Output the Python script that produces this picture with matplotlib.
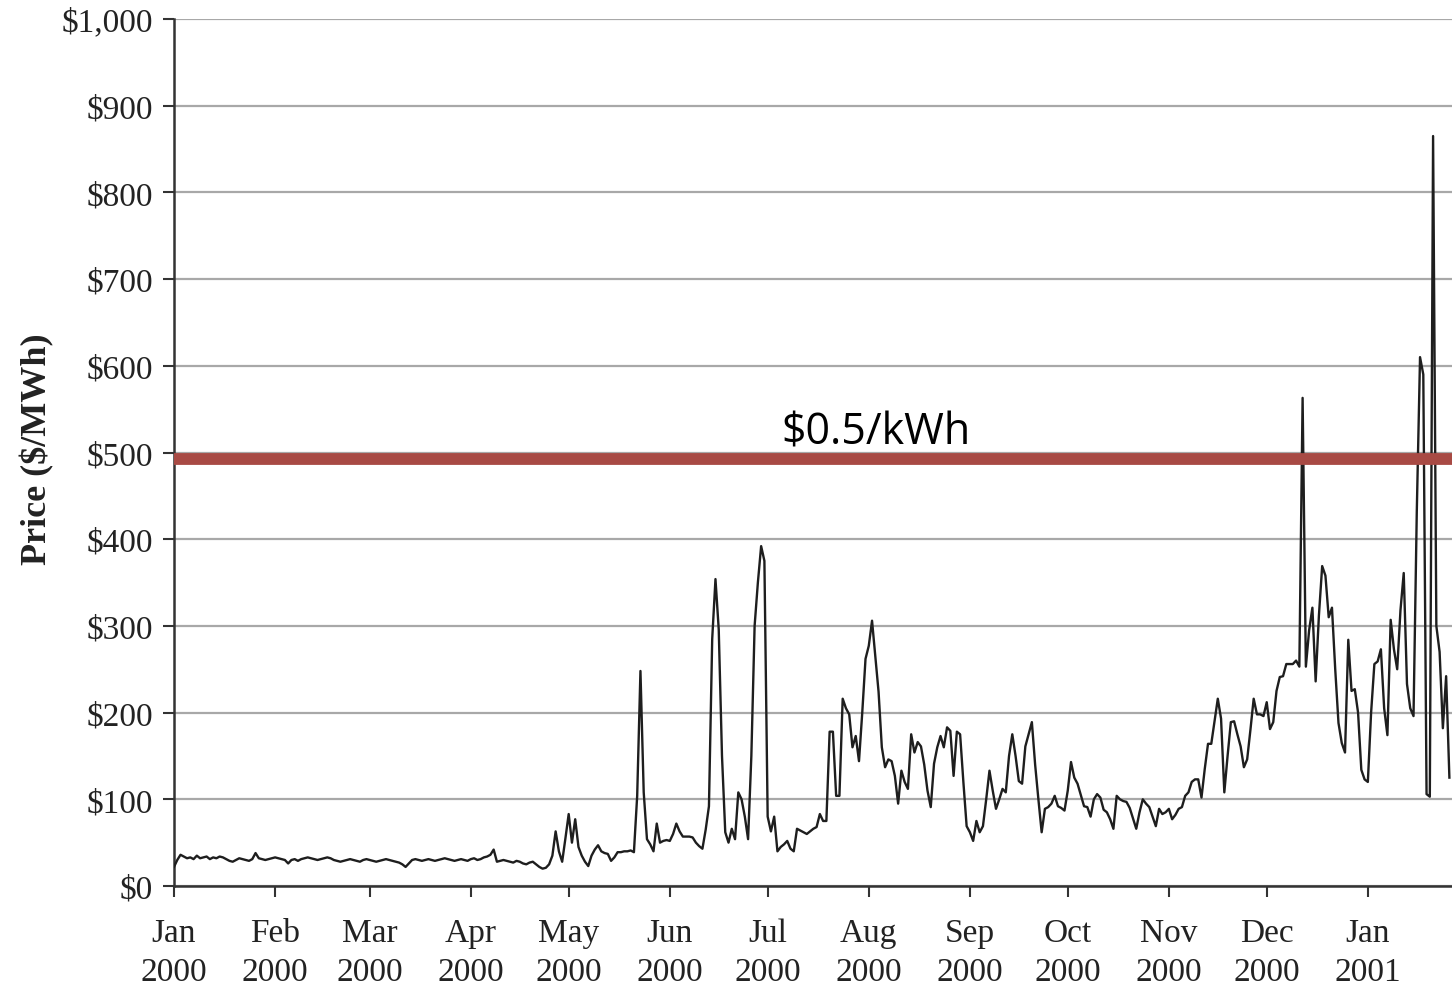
import matplotlib
matplotlib.use('Agg')
import matplotlib.pyplot as plt
import numpy as np
import pandas as pd

# daily prices ($/MWh)
jan00 = [22, 30, 36, 34, 32, 33, 31, 35, 32, 33, 34, 31, 33, 32, 34, 33, 31, 29, 28, 30,
         32, 31, 30, 29, 31, 38, 32, 31, 30, 31, 32]
feb00 = [33, 32, 31, 30, 26, 30, 31, 29, 31, 32, 33, 32, 31, 30, 31, 32, 33, 32, 30, 29,
         28, 29, 30, 31, 30, 29, 28, 30, 31]
mar00 = [30, 29, 28, 29, 30, 31, 30, 29, 28, 27, 25, 22, 26, 30, 31, 30, 29, 30, 31, 30,
         29, 30, 31, 32, 31, 30, 29, 30, 31, 30, 29]
apr00 = [31, 32, 30, 31, 33, 34, 36, 42, 28, 29, 30, 29, 28, 27, 29, 28, 26, 25, 27, 28,
         25, 22, 20, 21, 25, 35, 63, 40, 28, 55]
may00 = [83, 50, 77, 45, 35, 28, 23, 35, 42, 47, 40, 38, 37, 29, 33, 39, 39, 40, 40, 41,
         39, 104, 248, 108, 54, 48, 40, 72, 50, 52, 53]
jun00 = [52, 60, 72, 63, 57, 57, 57, 56, 50, 46, 43, 65, 92, 285, 354, 296, 150, 62, 50, 66,
         54, 108, 100, 80, 54, 150, 300, 350, 392, 375]
jul00 = [80, 63, 80, 40, 45, 48, 52, 43, 40, 66, 64, 62, 60, 63, 66, 68, 83, 75, 75, 178,
         178, 104, 104, 216, 205, 198, 160, 173, 144, 200, 262]
aug00 = [277, 306, 265, 224, 160, 137, 146, 144, 127, 95, 133, 120, 112, 175, 154, 166, 161,
         140, 110, 91, 141, 160, 173, 160, 183, 179, 127, 178, 175, 120, 69]
sep00 = [62, 52, 75, 62, 69, 100, 133, 110, 89, 100, 112, 108, 150, 175, 150, 121, 118, 161,
         175, 189, 140, 100, 62, 89, 91, 95, 104, 92, 90, 87]
oct00 = [110, 143, 125, 118, 105, 92, 91, 80, 100, 106, 102, 88, 85, 77, 66, 104, 100, 98,
         97, 90, 78, 66, 85, 100, 95, 91, 80, 69, 89, 83, 85]
nov00 = [89, 77, 82, 89, 91, 104, 108, 120, 123, 123, 102, 135, 164, 164, 190, 216, 193, 108,
         150, 189, 190, 175, 161, 137, 146, 180, 216, 198, 198, 196]
dec00 = [212, 181, 189, 225, 241, 242, 256, 256, 256, 260, 253, 563, 253, 295, 321, 236, 312,
         369, 358, 310, 321, 250, 188, 165, 154, 284, 225, 227, 200, 134, 123]
jan01 = [120, 200, 256, 259, 273, 205, 174, 307, 273, 250, 318, 361, 233, 205, 196, 431, 610,
         590, 106, 103, 865, 300, 270, 182, 242, 125]

prices = jan00 + feb00 + mar00 + apr00 + may00 + jun00 + jul00 + aug00 + sep00 + oct00 + nov00 + dec00 + jan01
dates = pd.date_range('2000-01-01', periods=len(prices), freq='D')

y_ticks = [0, 100, 200, 300, 400, 500, 600, 700, 800, 900, 1000]
y_labels = ['$0', '$100', '$200', '$300', '$400', '$500', '$600', '$700', '$800', '$900', '$1,000']
month_labels = ['Jan\n2000', 'Feb\n2000', 'Mar\n2000', 'Apr\n2000', 'May\n2000', 'Jun\n2000',
                'Jul\n2000', 'Aug\n2000', 'Sep\n2000', 'Oct\n2000', 'Nov\n2000', 'Dec\n2000', 'Jan\n2001']
month_starts = pd.date_range('2000-01-01', periods=len(month_labels), freq='MS')
cap_price = 492
cap_label = '$0.5/kWh'

fig = plt.figure(figsize=(14.52, 9.87), dpi=100)
ax = fig.add_axes([174 / 1452, 100 / 987, 1 - 174 / 1452, 867 / 987])

ax.plot(dates, prices, color='#1e1e1e', lw=1.7, zorder=3)

ax.set_ylim(0, 1000)
ax.set_xlim(pd.Timestamp('2000-01-01'), pd.Timestamp('2000-01-01') + pd.Timedelta(days=391.8))

ax.set_yticks(y_ticks)
ax.set_yticklabels(y_labels)
ax.set_xticks(month_starts)
ax.set_xticklabels(month_labels, linespacing=1.33)

serif = 'Liberation Serif'
for lab in ax.get_xticklabels() + ax.get_yticklabels():
    lab.set_fontfamily(serif)
    lab.set_fontsize(24)
    lab.set_color('#222222')

ax.tick_params(axis='both', direction='out', length=8, width=1.5, color='#333333', pad=7)
ax.tick_params(axis='x', pad=15)
ax.yaxis.grid(True, color='#a8a8a8', lw=1.6, zorder=1)
ax.set_axisbelow(True)

for s in ['top', 'right']:
    ax.spines[s].set_visible(False)
for s in ['left', 'bottom']:
    ax.spines[s].set_color('#333333')
    ax.spines[s].set_linewidth(1.8)

ax.set_ylabel('Price ($/MWh)', fontfamily=serif, fontweight='bold', fontsize=26,
              color='#222222')
ax.yaxis.set_label_coords(-0.094, 0.505)

ax.axhline(cap_price, color='#a84a44', lw=8.5, zorder=4, solid_capstyle='butt')
ax.text(0.549, 0.51, cap_label, transform=ax.transAxes, ha='center', va='baseline',
        fontfamily='Open Sans', fontsize=31, color='black', zorder=5)

fig.savefig('out.png', dpi=100)
